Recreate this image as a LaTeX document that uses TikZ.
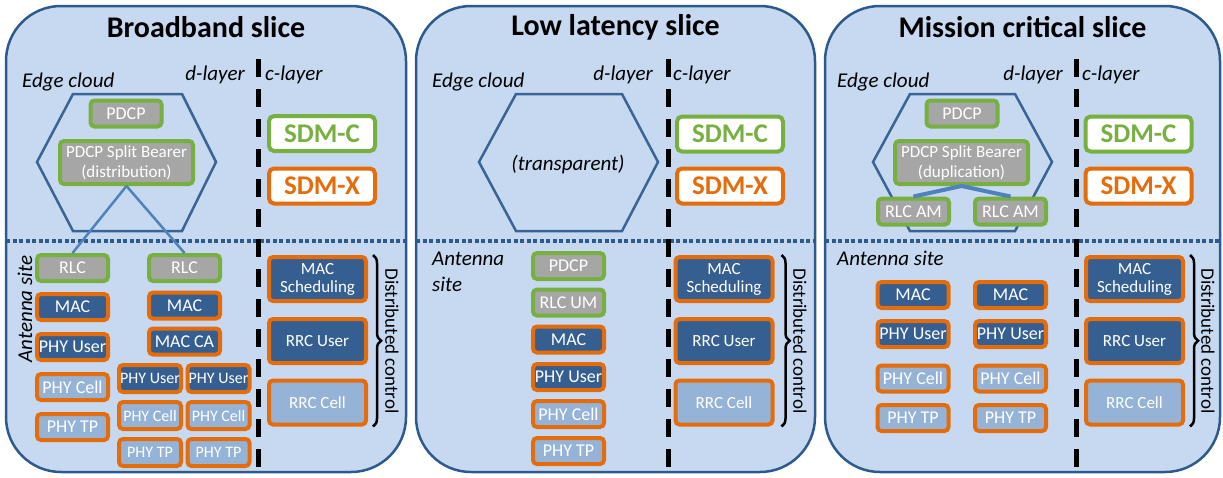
\documentclass[tikz,border=0pt]{standalone}
\usepackage{fontspec}
\setmainfont{Carlito}
\usepackage{tikz}
\usetikzlibrary{decorations.pathreplacing}

\definecolor{slicefill}{HTML}{C6D9F1}
\definecolor{sliceline}{HTML}{2C5A8C}
\definecolor{hexline}{HTML}{3A6496}
\definecolor{macblue}{HTML}{365F91}
\definecolor{phyblue}{HTML}{95B3D7}
\definecolor{pdcpgrey}{HTML}{A6A6A6}
\definecolor{upgreen}{HTML}{77B041}
\definecolor{ctrlorange}{HTML}{E46C0A}
\definecolor{linkblue}{HTML}{4F81BD}

\tikzset{
  slice/.style={draw=sliceline, fill=slicefill, line width=2.5pt, rounded corners=55pt},
  sitesep/.style={draw=sliceline, line width=3.5pt, dash pattern=on 4pt off 2.5pt},
  layersep/.style={draw=black, line width=5pt, dash pattern=on 18pt off 12pt},
  hexcloud/.style={draw=hexline, line width=2.5pt},
  heading/.style={font=\fontsize{30}{30}\selectfont\bfseries},
  area/.style={font=\fontsize{21}{26}\selectfont\itshape, inner sep=0pt},
  blk/.style={rounded corners=4pt, line width=4pt, inner sep=0pt, text=white, align=center,
    font=\fontsize{18}{19}\selectfont, minimum width=71pt, minimum height=26pt},
  macbox/.style={blk, fill=macblue, draw=ctrlorange},
  phybox/.style={blk, fill=phyblue, draw=ctrlorange},
  pdcpbox/.style={blk, fill=pdcpgrey, draw=upgreen},
  narrowsize/.style={minimum width=62pt, minimum height=27pt, font=\fontsize{16}{17}\selectfont},
  splitsize/.style={minimum width=133pt, minimum height=43pt, font=\fontsize{17}{20}\selectfont},
  ctlsize/.style={minimum width=97pt, minimum height=44pt, font=\fontsize{17}{18}\selectfont},
  sdm/.style={rounded corners=5pt, line width=4pt, fill=white, inner sep=0pt,
    minimum width=106pt, minimum height=35pt, font=\fontsize{27}{27}\selectfont\bfseries},
  sdmc/.style={sdm, draw=upgreen, text=upgreen},
  sdmx/.style={sdm, draw=ctrlorange, text=ctrlorange},
  split link/.style={draw=linkblue, line width=2.5pt},
  ctlbrace/.style={decorate, decoration={brace, amplitude=8pt}, line width=2.5pt},
  ctltext/.style={rotate=-90, font=\fontsize{19}{19}\selectfont, inner sep=0pt}
}

\begin{document}
\begin{tikzpicture}[x=1pt, y=-1pt]
  \useasboundingbox (0,0) rectangle (1223,477);

  % slices
  \path[slice] (6,6) rectangle (406,472);
  \path[slice] (416,6) rectangle (815,472);
  \path[slice] (825,6) rectangle (1220,472);
  \draw[sitesep] (6,241) -- (406,241);
  \draw[sitesep] (416,241) -- (815,241);
  \draw[sitesep] (825,241) -- (1220,241);
  \draw[layersep] (258,59) -- (258,472);
  \draw[layersep] (668,59) -- (668,472);
  \draw[layersep] (1076,59) -- (1076,472);
  \draw[hexcloud] (73,94) -- (182,94) -- (216,162) -- (182,231) -- (73,231) -- (37,162) -- cycle;
  \draw[hexcloud] (516,94) -- (622,94) -- (658,162) -- (622,231) -- (516,231) -- (479,162) -- cycle;
  \draw[hexcloud] (910,94) -- (1015,94) -- (1052,162) -- (1015,231) -- (910,231) -- (873,162) -- cycle;

  % broadband slice
  \node[heading] (bb-title) at (206,27) {Broadband slice};
  \node[area, anchor=base west] (bb-edge) at (22,87) {Edge cloud};
  \node[area, anchor=base east] (bb-d) at (245,80) {d-layer};
  \node[area, anchor=base west] (bb-c) at (265,80) {c-layer};
  \node[area, rotate=90] (bb-ant) at (25,309) {Antenna site};
  \node[pdcpbox] (bb-pdcp) at (126,113.5) {PDCP};
  \node[pdcpbox, splitsize] (bb-split) at (126.5,162.5) {PDCP Split Bearer\\(distribution)};
  \node[pdcpbox] (bb-rlc1) at (72.5,268) {RLC};
  \node[macbox] (bb-mac1) at (72.5,307) {MAC};
  \node[macbox] (bb-phyu1) at (72.5,347) {PHY User};
  \node[phybox] (bb-phyc1) at (72.5,387) {PHY Cell};
  \node[phybox] (bb-tp1) at (72.5,427) {PHY TP};
  \node[pdcpbox] (bb-rlc2) at (184.5,268) {RLC};
  \node[macbox] (bb-mac2) at (184.5,305.5) {MAC};
  \node[macbox] (bb-ca) at (184.5,341.5) {MAC CA};
  \node[macbox, narrowsize] (bb-phyu2) at (150,378.5) {PHY User};
  \node[macbox, narrowsize] (bb-phyu3) at (218.5,378.5) {PHY User};
  \node[phybox, narrowsize] (bb-phyc2) at (150,415.5) {PHY Cell};
  \node[phybox, narrowsize] (bb-phyc3) at (218.5,415.5) {PHY Cell};
  \node[phybox, narrowsize] (bb-tp2) at (150,452.5) {PHY TP};
  \node[phybox, narrowsize] (bb-tp3) at (218.5,452.5) {PHY TP};
  \node[sdmc] (bb-sdmc) at (322,133.5) {SDM-C};
  \node[sdmx] (bb-sdmx) at (322,186) {SDM-X};
  \node[macbox, ctlsize] (bb-sched) at (317.5,279) {MAC\\Scheduling};
  \node[macbox, ctlsize] (bb-rrcu) at (317.5,341) {RRC User};
  \node[phybox, ctlsize] (bb-rrcc) at (317.5,402.5) {RRC Cell};
  \draw[ctlbrace] ([xshift=5pt]bb-sched.north east) -- ([xshift=5pt]bb-rrcc.south east);
  \node[ctltext] (bb-dc) at (392,341) {Distributed control};
  \draw[split link] (bb-split.south) -- (bb-rlc1.north);
  \draw[split link] (bb-split.south) -- (bb-rlc2.north);

  % low latency slice
  \node[heading] (ll-title) at (615.5,27) {Low latency slice};
  \node[area, anchor=base west] (ll-edge) at (432,87) {Edge cloud};
  \node[area, anchor=base east] (ll-d) at (653,80) {d-layer};
  \node[area, anchor=base west] (ll-c) at (673,80) {c-layer};
  \node[area] (ll-tr) at (568,165) {(transparent)};
  \node[area, anchor=north west, align=left] (ll-ant) at (432,252) {Antenna\\site};
  \node[pdcpbox] (ll-pdcp) at (568.5,266) {PDCP};
  \node[pdcpbox] (ll-rlc) at (568.5,302.5) {RLC UM};
  \node[macbox] (ll-mac) at (568.5,339.5) {MAC};
  \node[macbox] (ll-phyu) at (568.5,377) {PHY User};
  \node[phybox] (ll-phyc) at (568.5,414) {PHY Cell};
  \node[phybox] (ll-tp) at (568.5,451) {PHY TP};
  \node[sdmc] (ll-sdmc) at (730,134) {SDM-C};
  \node[sdmx] (ll-sdmx) at (730,186) {SDM-X};
  \node[macbox, ctlsize] (ll-sched) at (724,279) {MAC\\Scheduling};
  \node[macbox, ctlsize] (ll-rrcu) at (724,341) {RRC User};
  \node[phybox, ctlsize] (ll-rrcc) at (724,402.5) {RRC Cell};
  \draw[ctlbrace] ([xshift=7pt]ll-sched.north east) -- ([xshift=7pt]ll-rrcc.south east);
  \node[ctltext] (ll-dc) at (800,341) {Distributed control};

  % mission critical slice
  \node[heading] (mc-title) at (1022.5,27) {Mission critical slice};
  \node[area, anchor=base west] (mc-edge) at (837,87) {Edge cloud};
  \node[area, anchor=base east] (mc-d) at (1063,80) {d-layer};
  \node[area, anchor=base west] (mc-c) at (1082,80) {c-layer};
  \node[area, anchor=base west] (mc-ant) at (837,265) {Antenna site};
  \node[pdcpbox] (mc-pdcp) at (962,113.5) {PDCP};
  \node[pdcpbox, splitsize] (mc-split) at (961.5,162.5) {PDCP Split Bearer\\(duplication)};
  \node[pdcpbox] (mc-rlc1) at (913.5,211.5) {RLC AM};
  \node[pdcpbox] (mc-rlc2) at (1010.5,211.5) {RLC AM};
  \draw[split link, line width=4pt] (mc-split.south) -- (mc-rlc1.north);
  \draw[split link, line width=4pt] (mc-split.south) -- (mc-rlc2.north);
  \node[macbox] (mc-mac1) at (913,295) {MAC};
  \node[macbox] (mc-mac2) at (1010.5,295) {MAC};
  \node[macbox] (mc-phyu1) at (913,334) {PHY User};
  \node[macbox] (mc-phyu2) at (1010.5,334) {PHY User};
  \node[phybox] (mc-phyc1) at (913,378.5) {PHY Cell};
  \node[phybox] (mc-phyc2) at (1010.5,378.5) {PHY Cell};
  \node[phybox] (mc-tp1) at (913,418) {PHY TP};
  \node[phybox] (mc-tp2) at (1010.5,418) {PHY TP};
  \node[sdmc] (mc-sdmc) at (1138.5,134) {SDM-C};
  \node[sdmx] (mc-sdmx) at (1138.5,186) {SDM-X};
  \node[macbox, ctlsize] (mc-sched) at (1134.5,279) {MAC\\Scheduling};
  \node[macbox, ctlsize] (mc-rrcu) at (1134.5,341) {RRC User};
  \node[phybox, ctlsize] (mc-rrcc) at (1134.5,402.5) {RRC Cell};
  \draw[ctlbrace] ([xshift=5pt]mc-sched.north east) -- ([xshift=5pt]mc-rrcc.south east);
  \node[ctltext] (mc-dc) at (1208,341) {Distributed control};
\end{tikzpicture}
\end{document}
